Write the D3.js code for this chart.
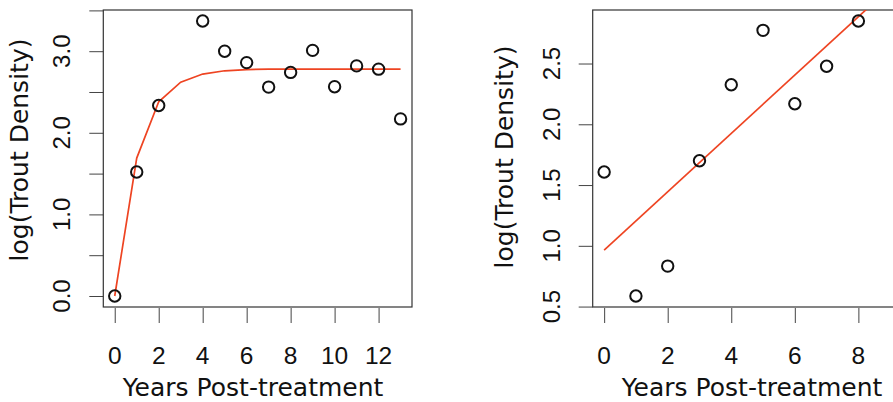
<!DOCTYPE html>
<html lang="en">
<head>
<meta charset="utf-8">
<title>Trout density after treatment</title>
<script src="https://cdn.jsdelivr.net/npm/d3@7"></script>
<style>
  body { margin: 0; background: #fff; }
  svg { display: block; }
  .tick line { stroke: #444; stroke-width: 1; }
</style>
</head>
<body>
<script>
// left panel: all years, with fitted asymptotic curve
var leftYears = [0, 1, 2, 4, 5, 6, 7, 8, 9, 10, 11, 12, 13];
var leftDensity = [0.0, 1.52, 2.335, 3.37, 3.0, 2.86, 2.56, 2.74, 3.01, 2.565, 2.82, 2.78, 2.17];
var leftFitYears = [0, 1, 2, 3, 4, 5, 6, 7, 8, 9, 10, 11, 12, 13];
var leftFit = [0.0, 1.69, 2.38, 2.62, 2.72, 2.76, 2.775, 2.78, 2.78, 2.78, 2.78, 2.78, 2.78, 2.78];
var leftXTicks = [0, 2, 4, 6, 8, 10, 12];
var leftYTicks = [0, 0.5, 1, 1.5, 2, 2.5, 3, 3.5];
var leftYLabels = [0, 1, 2, 3];

// right panel: first years, with linear fit
var rightYears = [0, 1, 2, 3, 4, 5, 6, 7, 8];
var rightDensity = [1.607, 0.587, 0.833, 1.70, 2.325, 2.773, 2.169, 2.478, 2.85];
var rightFitYears = [0, 9];
var rightFit = [0.965, 3.125];
var rightXTicks = [0, 2, 4, 6, 8];
var rightYTicks = [0.5, 1, 1.5, 2, 2.5];

var width = 893, height = 402;
var red = "#ee4422";
var tickFont = "Liberation Sans, Arial, sans-serif";
var titleFont = "DejaVu Sans, Verdana, sans-serif";

var svg = d3.select("body").append("svg")
    .attr("width", width)
    .attr("height", height);

function panel(opt) {
    var x = d3.scaleLinear().domain(opt.xDomain).range([opt.left, opt.right]);
    var y = d3.scaleLinear().domain(opt.yDomain).range([307, 10]);
    var g = svg.append("g");

    var clipId = "clip" + opt.id;
    g.append("clipPath").attr("id", clipId)
      .append("rect")
        .attr("x", opt.left).attr("y", 10)
        .attr("width", opt.right - opt.left).attr("height", 297);

    // x axis (ticks only, labels below)
    var xa = g.append("g")
        .attr("transform", "translate(0,308)")
        .call(d3.axisBottom(x).tickValues(opt.xTicks).tickSize(15).tickFormat(""));
    xa.select(".domain").remove();
    g.selectAll(".xlab").data(opt.xTicks).enter().append("text")
        .attr("x", function (d) { return x(d); })
        .attr("y", 364)
        .attr("text-anchor", "middle")
        .attr("font-family", tickFont)
        .attr("font-size", 24.5)
        .attr("fill", "#111")
        .text(function (d) { return d; });

    // y axis
    var ya = g.append("g")
        .attr("transform", "translate(" + opt.left + ",0)")
        .call(d3.axisLeft(y).tickValues(opt.yTicks).tickSize(14).tickFormat(""));
    ya.select(".domain").remove();
    g.selectAll(".ylab").data(opt.yLabels).enter().append("text")
        .attr("transform", function (d) {
            return "translate(" + opt.yLabX + "," + y(d) + ") rotate(-90)";
        })
        .attr("text-anchor", "middle")
        .attr("font-family", tickFont)
        .attr("font-size", 24)
        .attr("fill", "#111")
        .text(function (d) { return d3.format(".1f")(d); });

    // box
    g.append("rect")
        .attr("x", opt.left).attr("y", 10)
        .attr("width", opt.right - opt.left).attr("height", 297)
        .attr("fill", "none")
        .attr("stroke", "#333")
        .attr("stroke-width", 1.2);

    // fitted line
    var line = d3.line()
        .x(function (d, i) { return x(opt.fitX[i]); })
        .y(function (d) { return y(d); });
    g.append("path")
        .datum(opt.fitY)
        .attr("clip-path", "url(#" + clipId + ")")
        .attr("d", line)
        .attr("fill", "none")
        .attr("stroke", red)
        .attr("stroke-width", 1.7);

    // points
    g.selectAll(".pt").data(opt.yVals).enter().append("circle")
        .attr("cx", function (d, i) { return x(opt.xVals[i]); })
        .attr("cy", function (d) { return y(d); })
        .attr("r", 5.7)
        .attr("fill", "none")
        .attr("stroke", "#111")
        .attr("stroke-width", 2);

    // titles
    g.append("text")
        .attr("x", opt.xTitleX)
        .attr("y", 396)
        .attr("text-anchor", "middle")
        .attr("font-family", titleFont)
        .attr("font-size", 25)
        .attr("fill", "#111")
        .text("Years Post-treatment");
    g.append("text")
        .attr("transform", "translate(" + opt.yTitleX + "," + opt.yTitleY + ") rotate(-90)")
        .attr("text-anchor", "middle")
        .attr("font-family", titleFont)
        .attr("font-size", 25)
        .attr("fill", "#111")
        .text("log(Trout Density)");
}

panel({
    id: "L", left: 103.3, right: 412,
    xDomain: [-0.52, 13.52], yDomain: [-0.1348, 3.5048],
    xVals: leftYears, yVals: leftDensity,
    fitX: leftFitYears, fitY: leftFit,
    xTicks: leftXTicks, yTicks: leftYTicks, yLabels: leftYLabels,
    yLabX: 70, xTitleX: 253, yTitleX: 28, yTitleY: 150
});

panel({
    id: "R", left: 592.7, right: 901.6,
    xDomain: [-0.36, 9.36], yDomain: [0.4965, 2.9405],
    xVals: rightYears, yVals: rightDensity,
    fitX: rightFitYears, fitY: rightFit,
    xTicks: rightXTicks, yTicks: rightYTicks, yLabels: rightYTicks,
    yLabX: 560, xTitleX: 752, yTitleX: 513, yTitleY: 157
});
</script>
</body>
</html>
